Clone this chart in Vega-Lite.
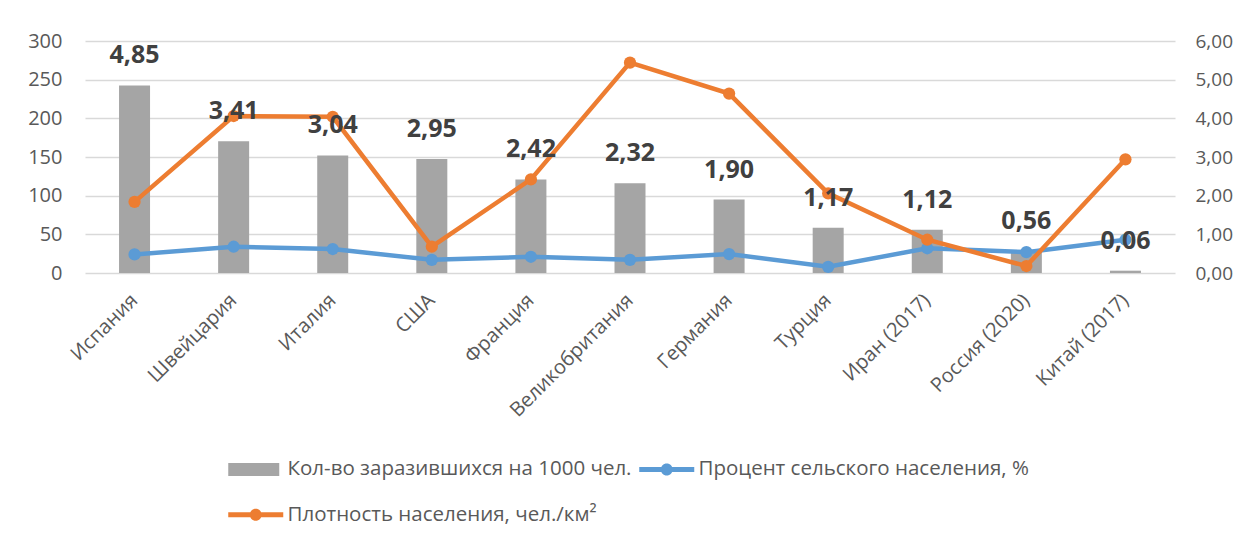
{
  "$schema": "https://vega.github.io/schema/vega-lite/v6.json",
  "width": 1090,
  "height": 232,
  "autosize": {"type": "none"},
  "padding": {"left": 85, "top": 41, "right": 71, "bottom": 269},
  "background": "white",
  "data": {
    "values": [
      {"country": "Испания", "cases": 4.85, "rural": 24, "density": 92},
      {"country": "Швейцария", "cases": 3.41, "rural": 34, "density": 203},
      {"country": "Италия", "cases": 3.04, "rural": 31, "density": 202},
      {"country": "США", "cases": 2.95, "rural": 17, "density": 34},
      {"country": "Франция", "cases": 2.42, "rural": 21, "density": 121},
      {"country": "Великобритания", "cases": 2.32, "rural": 17, "density": 272},
      {"country": "Германия", "cases": 1.90, "rural": 24.5, "density": 232},
      {"country": "Турция", "cases": 1.17, "rural": 8, "density": 103},
      {"country": "Иран (2017)", "cases": 1.12, "rural": 32, "density": 43},
      {"country": "Россия (2020)", "cases": 0.56, "rural": 27, "density": 9},
      {"country": "Китай (2017)", "cases": 0.06, "rural": 43, "density": 147}
    ]
  },
  "encoding": {
    "x": {
      "field": "country",
      "type": "nominal",
      "sort": null,
      "scale": {"paddingInner": 0, "paddingOuter": 0},
      "axis": {
        "title": null,
        "labelAngle": -45,
        "labelAlign": "right",
        "labelBaseline": "middle",
        "labelPadding": 24,
        "labelLimit": 0,
        "domain": false,
        "ticks": false,
        "grid": false
      }
    }
  },
  "layer": [
    {
      "mark": {"type": "bar", "size": 31},
      "encoding": {
        "y": {
          "field": "cases",
          "type": "quantitative",
          "scale": {"domain": [0, 6], "nice": false, "zero": true},
          "axis": {
            "orient": "right",
            "title": null,
            "values": [0, 1, 2, 3, 4, 5, 6],
            "format": ".2f",
            "labelPadding": 20,
            "labelFontSize": 19,
            "grid": false
          }
        },
        "color": {
          "datum": "Кол-во заразившихся на 1000 чел.",
          "scale": {
            "domain": ["Кол-во заразившихся на 1000 чел.", "Плотность населения, чел./км²", "Процент сельского населения, %"],
            "range": ["#A5A5A5", "#ED7D31", "#5B9BD5"]
          },
          "legend": {
            "title": null,
            "values": ["Кол-во заразившихся на 1000 чел.", "Плотность населения, чел./км²", "Процент сельского населения, %"],
            "orient": "none",
            "legendX": 143,
            "legendY": 418,
            "columns": 2,
            "columnPadding": 7,
            "rowPadding": 24.5,
            "padding": 0,
            "symbolSize": 400,
            "labelOffset": 39,
            "labelFont": "Open Sans",
            "labelFontSize": 20.5,
            "labelColor": "#595959",
            "labelLimit": 0,
            "encode": {
              "symbols": {
                "update": {
                  "shape": {"signal": "datum.value === 'Кол-во заразившихся на 1000 чел.' ? 'M-1,-0.65H4.1V0.65H-1Z' : 'M-1,-0.25H4.5V0.25H-1Z M2.35,0A0.6,0.6 0 1,1 1.15,0A0.6,0.6 0 1,1 2.35,0Z'"},
                  "fill": {"signal": "datum.value === 'Кол-во заразившихся на 1000 чел.' ? '#A5A5A5' : datum.value === 'Процент сельского населения, %' ? '#5B9BD5' : '#ED7D31'"},
                  "stroke": {"value": "transparent"},
                  "strokeWidth": {"value": 0},
                  "size": {"value": 400},
                  "opacity": {"value": 1},
                  "fillOpacity": {"value": 1}
                }
              }
            }
          }
        }
      }
    },
    {
      "layer": [
        {
          "mark": {"type": "line", "strokeWidth": 4.5},
          "encoding": {
            "y": {"field": "rural", "type": "quantitative"},
            "color": {"datum": "Процент сельского населения, %"}
          }
        },
        {
          "mark": {"type": "point", "filled": true, "size": 150, "opacity": 1},
          "encoding": {
            "y": {"field": "rural", "type": "quantitative"},
            "color": {"datum": "Процент сельского населения, %"}
          }
        },
        {
          "mark": {"type": "line", "strokeWidth": 4.5},
          "encoding": {
            "y": {"field": "density", "type": "quantitative"},
            "color": {"datum": "Плотность населения, чел./км²"}
          }
        },
        {
          "mark": {"type": "point", "filled": true, "size": 150, "opacity": 1},
          "encoding": {
            "y": {"field": "density", "type": "quantitative"},
            "color": {"datum": "Плотность населения, чел./км²"}
          }
        }
      ],
      "encoding": {
        "y": {
          "type": "quantitative",
          "scale": {"domain": [0, 300], "nice": false, "zero": true},
          "axis": {
            "orient": "left",
            "title": null,
            "values": [0, 50, 100, 150, 200, 250, 300],
            "format": "d",
            "labelPadding": 23,
            "grid": true
          }
        }
      }
    },
    {
      "mark": {
        "type": "text",
        "dy": -30,
        "baseline": "middle",
        "align": "center",
        "font": "Open Sans",
        "fontSize": 25,
        "fontWeight": "bold",
        "color": "#404040"
      },
      "encoding": {
        "y": {
          "field": "cases",
          "type": "quantitative",
          "scale": {"domain": [0, 6], "nice": false, "zero": true},
          "axis": null
        },
        "text": {"field": "cases", "type": "quantitative", "format": ".2f"}
      }
    }
  ],
  "resolve": {"scale": {"y": "independent"}},
  "config": {
    "locale": {
      "number": {"decimal": ",", "thousands": " ", "grouping": [3], "currency": ["", ""]}
    },
    "font": "Open Sans",
    "view": {"stroke": null},
    "axis": {
      "labelFont": "Open Sans",
      "labelFontSize": 20,
      "labelColor": "#595959",
      "domain": false,
      "ticks": false,
      "gridColor": "#D9D9D9",
      "gridWidth": 1.3
    }
  }
}
